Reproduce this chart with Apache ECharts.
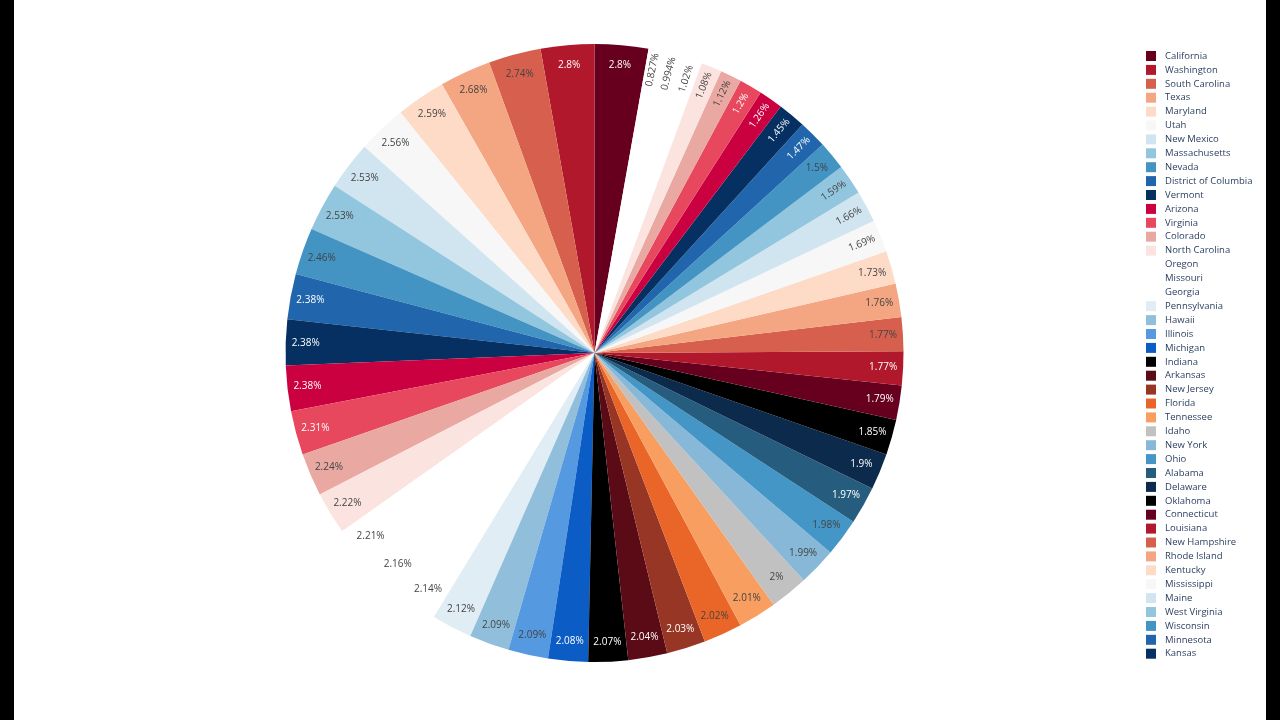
<!DOCTYPE html>
<html>
<head>
<meta charset="utf-8">
<title>Pie by state</title>
<script src="https://cdn.jsdelivr.net/npm/echarts@6/dist/echarts.min.js"></script>
<style>
    html, body { margin: 0; padding: 0; background: #000; }
    .pie .chart { position: absolute; left: 14px; top: 0; width: 1252px; height: 720px; background: #fff; }
</style>
</head>
<body>
<div class="pie"><div class="chart"></div></div>
<script>
// 数据: 每个州的占比 (%)
var states = ["California", "Washington", "South Carolina", "Texas", "Maryland", "Utah",
    "New Mexico", "Massachusetts", "Nevada", "District of Columbia", "Vermont", "Arizona",
    "Virginia", "Colorado", "North Carolina", "Oregon", "Missouri", "Georgia", "Pennsylvania",
    "Hawaii", "Illinois", "Michigan", "Indiana", "Arkansas", "New Jersey", "Florida",
    "Tennessee", "Idaho", "New York", "Ohio", "Alabama", "Delaware", "Oklahoma", "Connecticut",
    "Louisiana", "New Hampshire", "Rhode Island", "Kentucky", "Mississippi", "Maine",
    "West Virginia", "Wisconsin", "Minnesota", "Kansas", "Iowa", "Nebraska", "Montana",
    "Alaska", "Wyoming", "South Dakota", "North Dakota"];
var shares = [2.8, 2.8, 2.74, 2.68, 2.59, 2.56, 2.53, 2.53, 2.46, 2.38, 2.38, 2.38, 2.31,
    2.24, 2.22, 2.21, 2.16, 2.14, 2.12, 2.09, 2.09, 2.08, 2.07, 2.04, 2.03, 2.02, 2.01, 2,
    1.99, 1.98, 1.97, 1.9, 1.85, 1.79, 1.77, 1.77, 1.76, 1.73, 1.69, 1.66, 1.59, 1.5, 1.47,
    1.45, 1.26, 1.2, 1.12, 1.08, 1.02, 0.994, 0.827];
// 图例只显示前 44 项
var legendNames = states.slice(0, 44);

(function () {
    var myChart = echarts.init(document.querySelector(".pie .chart"));
    // 颜色循环 (33 色)
    var myColor = [
        "#67001f", "#b2182b", "#d6604d", "#f4a582", "#fddbc7", "#f7f7f7",
        "#d1e5f0", "#92c5de", "#4393c3", "#2166ac", "#053061",
        "#ca0040", "#e8485e", "#e9a9a2", "#fbe3df", "#ffffff", "#ffffff",
        "#ffffff", "#e0edf5", "#91bfdb", "#5599e0", "#0b5cc5",
        "#000000", "#5b0b16", "#973624", "#ea6528", "#f89e60", "#c1c1c1",
        "#88b8d8", "#4396c6", "#265d7e", "#0c2a4c", "#000000"
    ];
    // 小扇区的文字沿半径方向
    var radialIdx = [38, 39, 40, 42, 43, 44, 45, 46, 47, 48, 49, 50];
    var font = "'Open Sans', 'DejaVu Sans', sans-serif";
    var R = 309;
    var center = [580.5, 353];

    var total = 0;
    shares.forEach(function (v) { total += v; });
    // 第一块从 12 点钟方向逆时针结束
    var start = 90 - 360 * shares[0] / total;

    function textColor(hex) {
        var r = parseInt(hex.substr(1, 2), 16);
        var g = parseInt(hex.substr(3, 2), 16);
        var b = parseInt(hex.substr(5, 2), 16);
        return (r * 299 + g * 587 + b * 114) / 1000 < 128 ? "#fff" : "#444";
    }

    var option = {
        animation: false,
        legend: {
            data: legendNames,
            orient: "vertical",
            left: 1127,
            top: 46,
            itemWidth: 10,
            itemHeight: 10,
            itemGap: 3.9,
            icon: "rect",
            selectedMode: false,
            textStyle: {
                fontFamily: font,
                fontSize: 9.5,
                color: "#2a3f5f",
                padding: [0, 0, 0, 4]
            }
        },
        series: [
            {
                name: "share",
                type: "pie",
                radius: [0, R],
                center: center,
                clockwise: false,
                startAngle: start,
                label: { show: false },
                labelLine: { show: false },
                emphasis: { disabled: true },
                data: states.map(function (s, i) {
                    return { name: s, value: shares[i], itemStyle: { color: myColor[i % myColor.length] } };
                })
            },
            {
                // 只用来放标签, 靠近外圈
                name: "labels",
                type: "pie",
                radius: [R - 44, R - 2],
                center: center,
                clockwise: false,
                startAngle: start,
                silent: true,
                avoidLabelOverlap: false,
                labelLine: { show: false },
                emphasis: { disabled: true },
                label: {
                    show: true,
                    position: "inside",
                    fontFamily: font,
                    fontSize: 10,
                    formatter: function (p) { return p.value + "%"; }
                },
                data: states.map(function (s, i) {
                    return {
                        name: s,
                        value: shares[i],
                        itemStyle: { color: "rgba(0,0,0,0)" },
                        label: {
                            color: textColor(myColor[i % myColor.length]),
                            rotate: radialIdx.indexOf(i) >= 0 ? "radial" : 0
                        }
                    };
                })
            }
        ]
    };
    myChart.setOption(option);
    window.addEventListener("resize", function () {
        myChart.resize();
    });
})();
</script>
</body>
</html>
